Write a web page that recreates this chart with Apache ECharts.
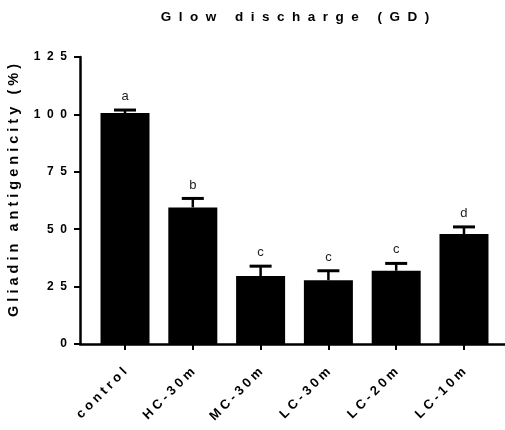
<!DOCTYPE html>
<html>
<head>
<meta charset="utf-8">
<script src="https://cdn.jsdelivr.net/npm/echarts@6/dist/echarts.min.js"></script>
<style>
  html, body { margin: 0; padding: 0; background: #fff; }
  #chart { width: 505px; height: 430px; }
</style>
</head>
<body>
<div id="chart"></div>
<script>
// Treatment groups along the x axis
const categories = ['control', 'HC-30m', 'MC-30m', 'LC-30m', 'LC-20m', 'LC-10m'];
// Mean gliadin antigenicity (%) per group
const means = [100.6, 59.5, 29.6, 27.8, 31.9, 47.9];
// Upper error (SD) per group
const errors = [1.3, 3.9, 4.3, 4.1, 3.2, 3.1];
// Significance letters drawn above each error bar
const letters = ['a', 'b', 'c', 'c', 'c', 'd'];
// Y axis tick values
const yTicks = [0, 25, 50, 75, 100, 125];

const FONT = 'Liberation Sans, Arial, sans-serif';
// Letter-spaced text: `gap` between glyphs, a wider gap between words
const track = (s, gap) => String(s).split(' ')
  .map(w => w.split('').join(gap))
  .join(gap + ' ' + gap);
const positions = categories.map((_, i) => i);

const chart = echarts.init(document.getElementById('chart'), null, { renderer: 'canvas' });

chart.setOption({
  animation: false,
  backgroundColor: '#fff',
  title: {
    text: track('Glow discharge (GD)', '  '),
    left: 290,
    top: 5,
    textAlign: 'center',
    textStyle: { fontFamily: FONT, fontSize: 13.5, fontWeight: 'bold', color: '#000' }
  },
  grid: { left: 80, right: 0, top: 57, bottom: 86, outerBoundsMode: 'none', containLabel: false },
  xAxis: {
    type: 'value',
    min: -0.664,
    max: 5.605,
    splitLine: { show: false },
    axisLine: { show: true, onZero: false, lineStyle: { color: '#000', width: 2.5 } },
    axisTick: { show: true, length: 6, lineStyle: { color: '#000', width: 2 }, customValues: positions },
    axisLabel: {
      customValues: positions,
      rotate: 45,
      margin: 26,
      fontFamily: FONT,
      fontSize: 13,
      fontWeight: 'bold',
      color: '#000',
      formatter: v => track(categories[Math.round(v)] || '', ' ')
    }
  },
  yAxis: {
    type: 'value',
    min: 0,
    max: 125,
    interval: 25,
    name: track('Gliadin antigenicity (%)', ' '),
    nameLocation: 'middle',
    nameRotate: 90,
    nameGap: 59,
    nameTextStyle: {
      fontFamily: FONT, fontSize: 14.5, fontWeight: 'bold', color: '#000',
      padding: [0, 0, 0, 20]
    },
    splitLine: { show: false },
    axisLine: { show: true, onZero: false, lineStyle: { color: '#000', width: 2.5 } },
    axisTick: { show: true, length: 6, lineStyle: { color: '#000', width: 2 } },
    axisLabel: {
      margin: 13,
      fontFamily: FONT,
      fontSize: 12,
      fontWeight: 'bold',
      color: '#000',
      formatter: v => track(v, '  ')
    }
  },
  series: [
    {
      type: 'bar',
      data: means.map((m, i) => [positions[i], m]),
      barWidth: 49,
      itemStyle: { color: '#000' },
      z: 2
    },
    {
      type: 'custom',
      data: means.map((m, i) => [positions[i], m, errors[i]]),
      z: 3,
      renderItem: (params, api) => {
        const x = api.value(0);
        const top = api.value(1);
        const err = api.value(2);
        const p0 = api.coord([x, top]);
        const p1 = api.coord([x, top + err]);
        const half = 11;
        return {
          type: 'group',
          children: [
            {
              type: 'line',
              shape: { x1: p0[0], y1: p0[1], x2: p1[0], y2: p1[1] },
              style: { stroke: '#000', lineWidth: 2.5 }
            },
            {
              type: 'line',
              shape: { x1: p1[0] - half, y1: p1[1], x2: p1[0] + half, y2: p1[1] },
              style: { stroke: '#000', lineWidth: 3 }
            },
            {
              type: 'text',
              x: p1[0],
              y: p1[1] - 7,
              style: {
                text: letters[params.dataIndex],
                fill: '#222',
                fontFamily: FONT,
                fontSize: 13,
                align: 'center',
                verticalAlign: 'bottom'
              }
            }
          ]
        };
      }
    }
  ]
});
</script>
</body>
</html>
